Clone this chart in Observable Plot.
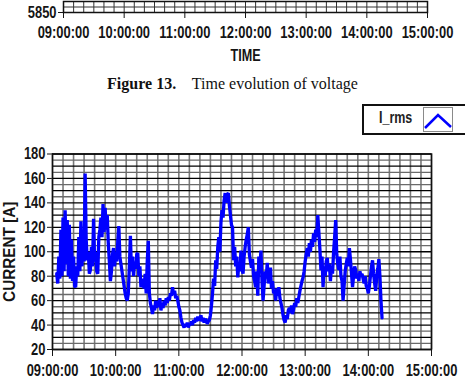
<!DOCTYPE html>
<html>
<head>
<meta charset="utf-8">
<script src="https://cdn.jsdelivr.net/npm/d3@7"></script>
<script src="https://cdn.jsdelivr.net/npm/@observablehq/plot@0.6"></script>
<style>
  html, body { margin: 0; padding: 0; background: #fff; }
  body { width: 465px; height: 386px; overflow: hidden; position: relative;
         font-family: "Liberation Sans", Arial, sans-serif; }
  #volt { position: absolute; left: 0; top: 0; }
  #caption { position: absolute; left: 0; top: 75px; width: 465px; text-align: center;
             font-family: "Liberation Serif", "Times New Roman", serif; font-size: 16px; color: #111; }
  #legend { position: absolute; left: 362px; top: 104px; width: 120px; height: 27px;
            border: 2px solid #111; background: #fff; }
  #legend .name { position: absolute; left: 15px; top: 3px; font-size: 16px; font-weight: bold; color: #222;
                  transform: scaleX(0.78); transform-origin: left center; }
  #legend .icon { position: absolute; left: 59px; top: 1px; width: 28px; height: 23px; border: 1px solid #8a8a8a; }
  #current { position: absolute; left: 0; top: 140px; }
  svg { overflow: visible; }
</style>
</head>
<body>
<div id="volt"></div>
<div id="caption"><b>Figure 13.</b>&nbsp;&nbsp;&nbsp; Time evolution of voltage</div>
<div id="legend"><span class="name"></span><svg class="icon" width="28" height="23"><polyline points="1,20 14,7 27,19" fill="none" stroke="#0000ff" stroke-width="2.5"/></svg></div>
<div id="current"></div>
<script>
// Axis ticks
const timeTicks = ["09:00:00", "10:00:00", "11:00:00", "12:00:00", "13:00:00", "14:00:00", "15:00:00"];
const currentTicks = [20, 40, 60, 80, 100, 120, 140, 160, 180];
const voltageTicks = [5850];
const seriesName = "I_rms";

// Logged RMS current, one reading per minute
const times = [
  "09:04","09:05","09:06","09:07","09:08","09:09","09:10","09:11","09:12","09:13","09:14","09:15","09:16","09:17","09:18","09:19",
  "09:20","09:21","09:22","09:23","09:24","09:25","09:26","09:27","09:28","09:29","09:30","09:31","09:32","09:33","09:34","09:35",
  "09:36","09:37","09:38","09:39","09:40","09:41","09:42","09:43","09:44","09:45","09:46","09:47","09:48","09:49","09:50","09:51",
  "09:52","09:53","09:54","09:55","09:56","09:57","09:58","09:59",
  "10:00","10:01","10:02","10:03","10:04","10:05","10:06","10:07","10:08","10:09","10:10","10:11","10:12","10:13","10:14","10:15",
  "10:16","10:17","10:18","10:19","10:20","10:21","10:22","10:23","10:24","10:25","10:26","10:27","10:28","10:29","10:30","10:31",
  "10:32","10:33","10:34","10:35","10:36","10:37","10:38","10:39","10:40","10:41","10:42","10:43","10:44","10:45","10:46","10:47",
  "10:48","10:49","10:50","10:51","10:52","10:53","10:54","10:55","10:56","10:57","10:58","10:59",
  "11:00","11:01","11:02","11:03","11:04","11:05","11:06","11:07","11:08","11:09","11:10","11:11","11:12","11:13","11:14","11:15",
  "11:16","11:17","11:18","11:19","11:20","11:21","11:22","11:23","11:24","11:25","11:26","11:27","11:28","11:29","11:30","11:31",
  "11:32","11:33","11:34","11:35","11:36","11:37","11:38","11:39","11:40","11:41","11:42","11:43","11:44","11:45","11:46","11:47",
  "11:48","11:49","11:50","11:51","11:52","11:53","11:54","11:55","11:56","11:57","11:58","11:59",
  "12:00","12:01","12:02","12:03","12:04","12:05","12:06","12:07","12:08","12:09","12:10","12:11","12:12","12:13","12:14","12:15",
  "12:16","12:17","12:18","12:19","12:20","12:21","12:22","12:23","12:24","12:25","12:26","12:27","12:28","12:29","12:30","12:31",
  "12:32","12:33","12:34","12:35","12:36","12:37","12:38","12:39","12:40","12:41","12:42","12:43","12:44","12:45","12:46","12:47",
  "12:48","12:49","12:50","12:51","12:52","12:53","12:54","12:55","12:56","12:57","12:58","12:59",
  "13:00","13:01","13:02","13:03","13:04","13:05","13:06","13:07","13:08","13:09","13:10","13:11","13:12","13:13","13:14","13:15",
  "13:16","13:17","13:18","13:19","13:20","13:21","13:22","13:23","13:24","13:25","13:26","13:27","13:28","13:29","13:30","13:31",
  "13:32","13:33","13:34","13:35","13:36","13:37","13:38","13:39","13:40","13:41","13:42","13:43","13:44","13:45","13:46","13:47",
  "13:48","13:49","13:50","13:51","13:52","13:53","13:54","13:55","13:56","13:57","13:58","13:59",
  "14:00","14:01","14:02","14:03","14:04","14:05","14:06","14:07","14:08","14:09","14:10","14:11","14:12","14:13"
];
const irms = [
  // 09:04 – 09:59
  82, 74, 96, 78, 118, 80, 128,
  84, 134, 90, 126, 80, 122, 78, 110, 76, 96,
  72, 71, 88, 80, 112, 84, 125, 88, 118, 92,
  164, 110, 93, 100, 82, 85, 104, 88, 127, 92,
  100, 84, 82, 112, 118, 128, 112, 139, 116, 136,
  118, 130, 107, 92, 76, 84, 98, 103, 88,
  // 10:00 – 10:59
  100,
  92, 108, 121, 96, 90, 84, 78, 72, 66, 62,
  60, 66, 88, 113, 84, 96, 80, 92, 86, 98,
  99, 80, 88, 71, 78, 74, 70, 82, 66, 92,
  109, 66, 58, 54, 49, 56, 52, 60, 54, 60,
  55, 62, 52, 57, 54, 60, 56, 62, 58, 63,
  60, 66, 64, 71, 65, 68, 62, 64, 60,
  // 11:00 – 11:59
  55,
  52, 46, 42, 40, 38, 41, 39, 42, 38, 41,
  40, 43, 40, 44, 42, 46, 43, 47, 44, 45,
  48, 43, 46, 42, 45, 44, 41, 43, 44, 48,
  56, 66, 78, 72, 93, 86, 104, 112, 100, 124,
  134, 128, 142, 148, 140, 147, 148, 138, 130, 122,
  120, 93, 104, 88, 96, 79, 90, 84, 101,
  // 12:00 – 12:59
  86,
  82, 96, 104, 110, 114, 120, 98, 92, 87, 94,
  80, 76, 71, 84, 64, 96, 88, 101, 76, 60,
  72, 84, 78, 91, 74, 82, 87, 70, 76, 66,
  68, 60, 70, 64, 71, 62, 58, 54, 48, 44,
  42, 48, 45, 52, 54, 50, 56, 49, 53, 58,
  55, 62, 58, 63, 68, 72, 76, 79, 84,
  // 13:00 – 13:59
  92,
  98, 103, 96, 107, 100, 110, 104, 115, 108, 118,
  112, 130, 116, 102, 85, 96, 71, 88, 80, 92,
  95, 84, 90, 76, 88, 82, 100, 112, 126, 98,
  90, 85, 96, 80, 76, 60, 72, 84, 90, 95,
  88, 103, 94, 82, 71, 80, 88, 85, 78, 82,
  76, 84, 80, 82, 78, 74, 80, 72, 70,
  // 14:00 – 14:13
  66,
  72, 80, 88, 93, 82, 74, 68, 80, 86, 94,
  80, 60, 46
];

const FONT = '"Liberation Sans", Arial, sans-serif';

// clock string -> Date on a fixed day
function clock(s) {
  const [h, m, sec = 0] = s.split(":").map(Number);
  return new Date(2000, 0, 1, h, m, sec);
}

const xDomain = [clock(timeTicks[0]), clock(timeTicks[timeTicks.length - 1])];
const xTickDates = timeTicks.map(clock);
const fmt = d3.timeFormat("%H:%M:%S");
const data = times.map((t, i) => ({time: clock(t), value: irms[i]}));

// vertical grid every 10 minutes
const gridTimes = d3.timeMinute.every(10).range(xDomain[0], new Date(+xDomain[1] + 1));

const axisStyle = {
  fontFamily: FONT, fontSize: "17px", fontWeight: "bold", color: "#151515",
  background: "transparent", overflow: "visible"
};

// condensed look for the axis lettering
function squeeze(svg, selector, factor) {
  svg.querySelectorAll(selector).forEach((t) => {
    const w = t.getComputedTextLength();
    if (w > 0) {
      t.setAttribute("textLength", (w * factor).toFixed(1));
      t.setAttribute("lengthAdjust", "spacingAndGlyphs");
    }
  });
}

// Bottom of the voltage chart (previous figure)
const volt = Plot.plot({
  width: 465, height: 62,
  marginTop: 1, marginBottom: 50, marginLeft: 63, marginRight: 38,
  style: axisStyle,
  x: {type: "time", domain: xDomain, ticks: xTickDates, tickFormat: fmt,
      tickSize: 6, tickPadding: 7, label: "TIME", labelAnchor: "center", labelOffset: 48, labelArrow: "none"},
  y: {domain: [5850, 5860], ticks: voltageTicks, tickFormat: d3.format("d"), tickSize: 5, tickPadding: 2, label: null},
  marks: [
    Plot.ruleX(gridTimes, {stroke: "#333", strokeWidth: 1}),
    Plot.ruleY([5855], {stroke: "#333", strokeWidth: 1}),
    Plot.frame({stroke: "#111", strokeWidth: 1.5})
  ]
});
document.getElementById("volt").append(volt);

// Current chart
const minorY = d3.range(currentTicks[0], currentTicks[currentTicks.length - 1] + 1, 5);
const current = Plot.plot({
  width: 465, height: 246,
  marginTop: 13.5, marginBottom: 37, marginLeft: 52, marginRight: 34,
  style: axisStyle,
  x: {type: "time", domain: xDomain, ticks: xTickDates, tickFormat: fmt,
      tickSize: 7, tickPadding: 7, label: "TIME", labelAnchor: "center", labelOffset: 49, labelArrow: "none"},
  y: {domain: [currentTicks[0], currentTicks[currentTicks.length - 1]], ticks: currentTicks,
      tickSize: 5, tickPadding: 2, label: "CURRENT [A]", labelAnchor: "center", labelOffset: 50, labelArrow: "none"},
  marks: [
    Plot.ruleX(gridTimes, {stroke: "#7a7a7a", strokeWidth: 1.6}),
    Plot.ruleY(minorY.filter(v => v % 10 !== 0), {stroke: "#6a6a6a", strokeWidth: 1.3}),
    Plot.ruleY(minorY.filter(v => v % 10 === 0), {stroke: "#000", strokeWidth: 1.3}),
    Plot.line(data, {x: "time", y: "value", stroke: "#0000ff", strokeWidth: 3.3, strokeLinejoin: "miter"}),
    Plot.frame({stroke: "#111", strokeWidth: 1.5})
  ]
});
document.getElementById("current").append(current);

for (const svg of [volt, current]) {
  squeeze(svg, 'g[aria-label$="tick label"] text', 0.76);
  squeeze(svg, 'g[aria-label="x-axis label"] text', 0.74);
  squeeze(svg, 'g[aria-label="y-axis label"] text', 0.9);
}

document.querySelector("#legend .name").textContent = seriesName;
</script>
</body>
</html>
